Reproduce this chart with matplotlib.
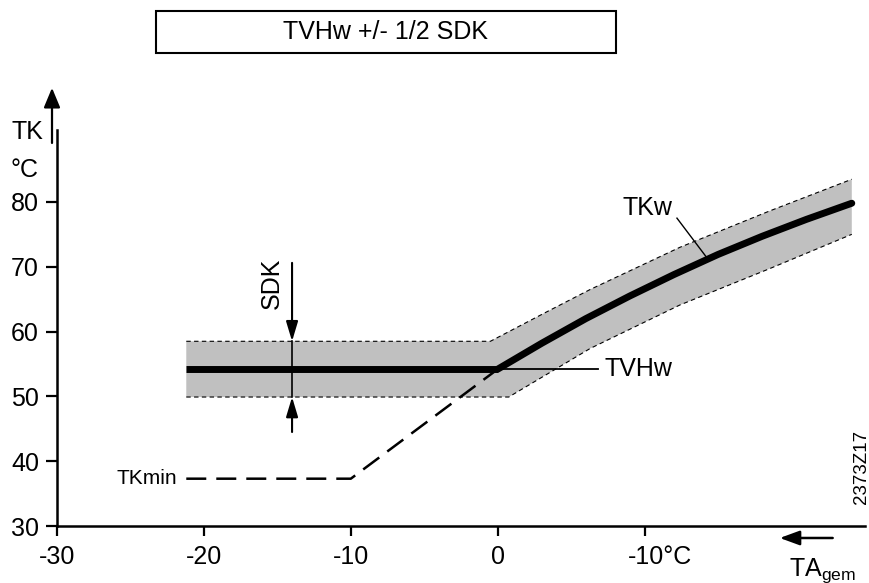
import matplotlib.pyplot as plt
import matplotlib.patches as patches
from matplotlib.transforms import ScaledTranslation


plt.rcParams["font.family"] = ["Liberation Sans", "DejaVu Sans"]
plt.rcParams["mathtext.fontset"] = "custom"
plt.rcParams["mathtext.rm"] = "Liberation Sans"

FIG_W, FIG_H = 870, 583
FONT = 18

X_TICKS = [-30, -20, -10, 0, 10]
X_TICK_LABELS = ["-30", "-20", "-10", "0", "-10°C"]
Y_TICKS = [30, 40, 50, 60, 70, 80]
Y_TICK_LABELS = ["30", "40", "50", "60", "70", "80"]

# flat TVHw part and the TKw heating curve
tvhw_x = [-21.2, 0.0]
tvhw_y = [54.2, 54.2]
tkw_x = [0.0, 3.0, 6.0, 9.0, 12.0, 15.0, 18.0, 21.0, 24.1]
tkw_y = [54.2, 58.2, 62.0, 65.5, 68.8, 71.9, 74.7, 77.3, 79.8]

# grey band TVHw +/- 1/2 SDK
band_upper_x = [-21.2, -0.5, 3.3, 6.3, 12.4, 18.5, 24.1]
band_upper_y = [58.5, 58.5, 63.0, 66.5, 73.0, 78.6, 83.5]
band_lower_x = [-21.2, 0.75, 6.3, 12.4, 18.5, 24.1]
band_lower_y = [49.9, 49.9, 57.4, 64.1, 69.7, 75.0]

# dashed TKmin line
tkmin_x = [-21.2, -10.0, 0.0]
tkmin_y = [37.3, 37.3, 54.2]

# SDK dimension arrows
sdk_x = -14.0
sdk_top = 70.6
sdk_bottom = 44.5


def fig_xy(px, py):
    return px / FIG_W, 1 - py / FIG_H


def arrow(ax, start, end, head_length=0.6, head_width=0.22, lw=1.5):
    ax.annotate(
        "",
        xy=end,
        xytext=start,
        arrowprops=dict(
            arrowstyle=f"-|>,head_length={head_length},head_width={head_width}",
            lw=lw,
            color="black",
            mutation_scale=20,
            shrinkA=0,
            shrinkB=0,
        ),
        annotation_clip=False,
    )


def main():
    fig = plt.figure(figsize=(FIG_W / 100, FIG_H / 100), dpi=100)
    ax = fig.add_axes([57 / FIG_W, 57 / FIG_H, 808 / FIG_W, 396 / FIG_H])
    ax.set_xlim(-30, 25)
    ax.set_ylim(30, 91.1)

    # band
    poly_x = band_upper_x + band_lower_x[::-1]
    poly_y = band_upper_y + band_lower_y[::-1]
    ax.fill(poly_x, poly_y, color="#c0c0c0", lw=0, zorder=1)
    for bx, by in [(band_upper_x, band_upper_y), (band_lower_x, band_lower_y)]:
        ax.plot(bx, by, color="black", lw=0.8, dashes=(4, 3), zorder=2)

    # TKmin dashed
    ax.plot(tkmin_x, tkmin_y, color="black", lw=1.8, dashes=(8, 4), zorder=3)

    # TVHw / TKw
    ax.plot(tvhw_x, tvhw_y, color="black", lw=5, solid_capstyle="butt", zorder=4)
    ax.plot(tkw_x, tkw_y, color="black", lw=5, solid_capstyle="round",
            solid_joinstyle="round", zorder=4)

    # SDK dimension
    ax.plot([sdk_x, sdk_x], [band_lower_y[0], band_upper_y[0]], color="black", lw=1.2, zorder=5)
    arrow(ax, (sdk_x, sdk_top), (sdk_x, band_upper_y[0]), head_width=0.18)
    arrow(ax, (sdk_x, sdk_bottom), (sdk_x, band_lower_y[0]), head_width=0.18)
    ax.text(sdk_x - 1.4, 67.5, "SDK", rotation=90, ha="center", va="center", fontsize=FONT)

    # labels with leaders
    ax.plot([0, 6.8], [54.2, 54.2], color="black", lw=1.3, zorder=5)
    ax.text(7.3, 54.2, "TVHw", ha="left", va="center", fontsize=FONT)
    ax.plot([12.2, 14.3], [77.5, 71.2], color="black", lw=1.0, zorder=5)
    ax.text(10.2, 79.1, "TKw", ha="center", va="center", fontsize=FONT)
    ax.text(-21.8, 37.3, "TKmin", ha="right", va="center", fontsize=15)

    # axes styling
    for side in ["top", "right"]:
        ax.spines[side].set_visible(False)
    for side in ["left", "bottom"]:
        ax.spines[side].set_linewidth(1.8)
    ax.set_xticks(X_TICKS)
    ax.set_xticklabels(X_TICK_LABELS)
    ax.set_yticks(Y_TICKS)
    ax.set_yticklabels(Y_TICK_LABELS)
    ax.tick_params(axis="x", direction="out", length=7.5, width=1.6, pad=6, labelsize=FONT)
    ax.tick_params(axis="y", direction="out", length=8, width=1.6, pad=5, labelsize=FONT)
    last = ax.get_xticklabels()[-1]
    last.set_transform(last.get_transform() + ScaledTranslation(0.15, 0, fig.dpi_scale_trans))

    # axis arrows
    arrow(ax, (-30.34, 89.1), (-30.34, 97.6), head_width=0.25, lw=1.6)
    arrow(ax, (22.8, 28.15), (19.2, 28.15), head_width=0.22, lw=1.8)

    # texts outside the axes
    fig.text(*fig_xy(12, 132), "TK", ha="left", va="center", fontsize=FONT)
    fig.text(*fig_xy(11, 170), "°C", ha="left", va="center", fontsize=FONT)
    fig.text(*fig_xy(789, 576), r"TA$_{\mathrm{gem}}$", ha="left", va="baseline", fontsize=FONT)
    fig.text(*fig_xy(862, 467), "2373Z17", rotation=90, ha="center", va="center", fontsize=13.5)

    # title box
    x0, y1 = fig_xy(156, 53)
    fig.patches.append(patches.Rectangle(
        (x0, y1), 460 / FIG_W, 42 / FIG_H, transform=fig.transFigure,
        fill=False, edgecolor="black", lw=1.5,
    ))
    fig.text(*fig_xy(386, 32), "TVHw +/- 1/2 SDK", ha="center", va="center", fontsize=FONT)

    fig.savefig("out.png", dpi=100)


if __name__ == "__main__":
    main()
